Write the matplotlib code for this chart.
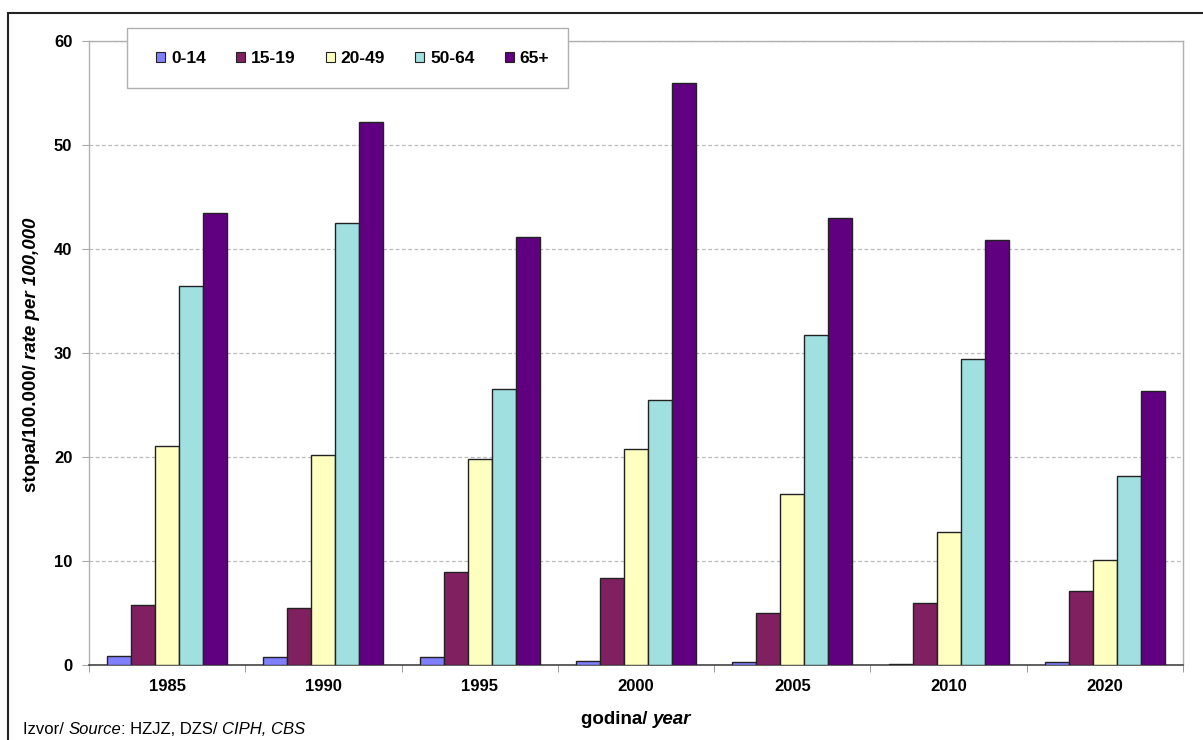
import matplotlib
matplotlib.use("Agg")
import matplotlib.pyplot as plt
import numpy as np
from matplotlib.patches import Rectangle

years = ["1985", "1990", "1995", "2000", "2005", "2010", "2020"]
groups = ["0-14", "15-19", "20-49", "50-64", "65+"]
v_0_14 = [0.85, 0.8, 0.8, 0.4, 0.3, 0.1, 0.3]
v_15_19 = [5.8, 5.5, 8.9, 8.4, 5.0, 6.0, 7.1]
v_20_49 = [21.1, 20.2, 19.8, 20.8, 16.4, 12.8, 10.1]
v_50_64 = [36.4, 42.5, 26.5, 25.5, 31.7, 29.4, 18.2]
v_65 = [43.5, 52.2, 41.2, 56.0, 43.0, 40.9, 26.3]
series = [v_0_14, v_15_19, v_20_49, v_50_64, v_65]
colors = ["#8080FF", "#802060", "#FFFFC0", "#A0E0E0", "#600080"]

plt.rcParams['font.family'] = ['Liberation Sans', 'DejaVu Sans']

W, H = 1203, 740
fig = plt.figure(figsize=(W / 100, H / 100), dpi=100)
ax = fig.add_axes([89/W, 1-665/H, (1183-89)/W, (665-41)/H])

def fx(px):
    return px / W

def fy(py):
    return 1 - py / H

# outer frame
fig.patches.append(Rectangle((fx(8), -0.1), 1.2, fy(13) + 0.1,
                             transform=fig.transFigure, fill=False,
                             edgecolor="#222222", linewidth=1.5))

x = np.arange(len(years))
w = 0.1535
for i, (vals, c) in enumerate(zip(series, colors)):
    ax.bar(x + (i - 2) * w, vals, width=w, color=c, edgecolor="#222222",
           linewidth=1.0, label=groups[i], zorder=3)

ax.set_xlim(-0.5, len(years) - 0.5)
ax.set_ylim(0, 60)
ax.set_yticks(range(0, 61, 10))
ax.yaxis.grid(True, linestyle=(0, (3, 2)), color="#bbbbbb", linewidth=0.9, zorder=0)
ax.set_axisbelow(True)

ax.set_xticks(x)
ax.set_xticklabels(years, fontsize=12, fontweight="bold")
ax.set_xticks(np.arange(-0.5, len(years) + 0.5, 1), minor=True)
ax.tick_params(axis="x", which="major", length=0, pad=10)
ax.tick_params(axis="x", which="minor", length=5, color="#888888", direction="out")
ax.tick_params(axis="y", length=5, color="#aaaaaa", direction="out", labelsize=12, pad=7)
for lab in ax.get_yticklabels():
    lab.set_fontweight("bold")

for s in ["left", "top", "right"]:
    ax.spines[s].set_color("#b0b0b0")
    ax.spines[s].set_linewidth(1.0)
ax.spines["bottom"].set_color("#444444")
ax.spines["bottom"].set_linewidth(1.2)

# y label (two styles, chained)
t1 = fig.text(fx(32), fy(492), "stopa/100.000/ ", rotation=90,
              ha="center", va="bottom", fontsize=13.5, fontweight="bold")
ax.annotate("rate per 100,000", xy=(0.5, 1), xycoords=t1, rotation=90,
            ha="center", va="bottom", fontsize=13.5, fontweight="bold", style="italic",
            annotation_clip=False)

# x label
t2 = fig.text(fx(581), fy(720), "godina/ ", ha="left", va="center",
              fontsize=13.5, fontweight="bold")
ax.annotate("year", xy=(1, 0.5), xycoords=t2, ha="left", va="center",
            fontsize=13.5, fontweight="bold", style="italic", annotation_clip=False)

# source
parts = [("Izvor/ ", "normal"), ("Source", "italic"), (": HZJZ, DZS/ ", "normal"),
         ("CIPH, CBS", "italic")]
prev = fig.text(fx(23), fy(730), parts[0][0], ha="left", va="center", fontsize=12)
for txt, st in parts[1:]:
    prev = ax.annotate(txt, xy=(1, 0.5), xycoords=prev, ha="left", va="center",
                       fontsize=12, style=st, annotation_clip=False)

# legend box
box = Rectangle((fx(127), fy(88)), fx(568) - fx(127), fy(28) - fy(88),
                transform=fig.transFigure, facecolor="white", edgecolor="#b0b0b0",
                linewidth=1.0, zorder=4, clip_on=False)
ax.add_patch(box)

fs = 12.5
leg = fig.legend(*ax.get_legend_handles_labels(), loc="center left",
                 bbox_to_anchor=(fx(156), fy(58.5)), borderaxespad=0, borderpad=0,
                 ncol=5, frameon=False,
                 handlelength=0.52, handleheight=0.52, handletextpad=0.35,
                 columnspacing=1.73, prop={"weight": "bold", "size": fs})
leg.set_zorder(5)
for h in leg.legend_handles:
    h.set_linewidth(0.8)

fig.savefig("out.png", dpi=100)
